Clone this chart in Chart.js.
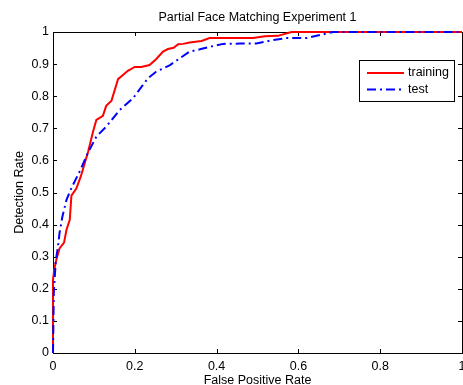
<!DOCTYPE html>
<html>
<head>
<meta charset="utf-8">
<script src="https://cdn.jsdelivr.net/npm/chart.js@4"></script>
<style>
  html, body { margin: 0; padding: 0; background: #fff; }
  #wrap { width: 463px; height: 385px; position: relative; }
</style>
</head>
<body>
<div id="wrap"><canvas id="roc-graph"></canvas></div>
<script>
const chartTitle = "Partial Face Matching Experiment 1";
const xLabel = "False Positive Rate";
const yLabel = "Detection Rate";
const seriesNames = ["training", "test"];

const trainFpr = [0, 0, 0.003, 0.008, 0.016, 0.027, 0.033, 0.041, 0.045, 0.057,
  0.068, 0.086, 0.098, 0.106, 0.122, 0.130, 0.143, 0.159, 0.171, 0.183,
  0.200, 0.216, 0.236, 0.252, 0.269, 0.281, 0.295, 0.306, 0.318, 0.334,
  0.363, 0.383, 0.408, 0.489, 0.518, 0.550, 0.583, 1];
const trainTpr = [0, 0.228, 0.26, 0.29, 0.326, 0.344, 0.384, 0.415, 0.49, 0.512,
  0.55, 0.628, 0.69, 0.726, 0.739, 0.77, 0.786, 0.853, 0.866, 0.879,
  0.891, 0.891, 0.897, 0.915, 0.939, 0.947, 0.951, 0.962, 0.963, 0.967,
  0.972, 0.981, 0.981, 0.981, 0.987, 0.988, 1, 1];

const testFpr = [0, 0.002, 0.007, 0.012, 0.016, 0.023, 0.033, 0.045, 0.065, 0.086,
  0.106, 0.130, 0.163, 0.196, 0.220, 0.232, 0.252, 0.285, 0.310, 0.334,
  0.359, 0.391, 0.416, 0.457, 0.497, 0.530, 0.570, 0.620, 0.685, 1];
const testTpr = [0, 0.19, 0.29, 0.33, 0.374, 0.425, 0.477, 0.514, 0.565, 0.625,
  0.674, 0.705, 0.757, 0.794, 0.835, 0.856, 0.876, 0.896, 0.918, 0.939,
  0.946, 0.956, 0.963, 0.964, 0.964, 0.973, 0.981, 0.981, 1, 1];

const xTicks = [0, 0.2, 0.4, 0.6, 0.8, 1];
const yTicks = [0, 0.1, 0.2, 0.3, 0.4, 0.5, 0.6, 0.7, 0.8, 0.9, 1];

const fontFamily = "'Liberation Sans', Arial, Helvetica, sans-serif";
const fontSize = 12.5;
const testDash = [9, 4, 2, 4];

function toPoints(xs, ys) {
  return xs.map((x, i) => ({ x: x, y: ys[i] }));
}

// Box, inward ticks, title and legend drawn the matlab way
const matlabAxes = {
  id: "matlabAxes",
  beforeDatasetsDraw(chart) {
    const { ctx, chartArea: a, scales } = chart;
    ctx.save();
    ctx.strokeStyle = "#000";
    ctx.lineWidth = 1;
    ctx.beginPath();
    xTicks.forEach((v) => {
      const px = Math.round(scales.x.getPixelForValue(v)) + 0.5;
      ctx.moveTo(px, a.bottom); ctx.lineTo(px, a.bottom - 4);
      ctx.moveTo(px, a.top); ctx.lineTo(px, a.top + 4);
    });
    yTicks.forEach((v) => {
      const py = Math.round(scales.y.getPixelForValue(v)) + 0.5;
      ctx.moveTo(a.left, py); ctx.lineTo(a.left + 4, py);
      ctx.moveTo(a.right, py); ctx.lineTo(a.right - 4, py);
    });
    ctx.stroke();
    ctx.strokeRect(Math.round(a.left) + 0.5, Math.round(a.top) + 0.5,
      Math.round(a.right - a.left), Math.round(a.bottom - a.top));
    ctx.restore();
  },
  afterDraw(chart) {
    const { ctx, chartArea: a } = chart;
    ctx.save();
    ctx.fillStyle = "#000";
    ctx.font = fontSize + "px " + fontFamily;
    ctx.textAlign = "center";
    ctx.textBaseline = "middle";
    ctx.fillText(chartTitle, (a.left + a.right) / 2, 18);

    // Legend box
    const bx = 359.5, by = 60.5, bw = 95, bh = 41;
    ctx.fillStyle = "#fff";
    ctx.fillRect(bx, by, bw, bh);
    ctx.strokeStyle = "#000";
    ctx.lineWidth = 1;
    ctx.strokeRect(bx, by, bw, bh);
    chart.data.datasets.forEach((ds, i) => {
      const ly = 73 + i * 16.5;
      ctx.strokeStyle = ds.borderColor;
      ctx.lineWidth = 2;
      ctx.setLineDash(ds.borderDash || []);
      ctx.beginPath();
      ctx.moveTo(367, ly);
      ctx.lineTo(404, ly);
      ctx.stroke();
      ctx.setLineDash([]);
      ctx.fillStyle = "#000";
      ctx.textAlign = "left";
      ctx.fillText(ds.label, 408, ly);
    });
    ctx.restore();
  },
};

const ctx = document.getElementById("roc-graph");
new Chart(ctx, {
  type: "line",
  data: {
    datasets: [
      {
        label: seriesNames[0],
        data: toPoints(trainFpr, trainTpr),
        borderColor: "#ff0000",
        borderWidth: 2,
        order: 1,
      },
      {
        label: seriesNames[1],
        data: toPoints(testFpr, testTpr),
        borderColor: "#0000ff",
        borderWidth: 2,
        borderDash: testDash,
        order: 0,
      },
    ],
  },
  options: {
    animation: false,
    responsive: true,
    maintainAspectRatio: false,
    devicePixelRatio: 1,
    radius: 0,
    tension: 0,
    clip: false,
    layout: { padding: { top: 32, right: 1, left: 0, bottom: 0 } },
    plugins: {
      legend: { display: false },
      tooltip: { enabled: false },
    },
    scales: {
      x: {
        type: "linear",
        min: 0,
        max: 1,
        afterFit(scale) {
          scale.height = 32;
          scale.paddingLeft = 0;
          scale.paddingRight = 0;
        },
        afterBuildTicks(scale) { scale.ticks = xTicks.map((v) => ({ value: v })); },
        grid: { display: false, drawTicks: false },
        border: { display: false },
        ticks: {
          color: "#000",
          padding: 6,
          maxRotation: 0,
          font: { family: fontFamily, size: fontSize },
          callback: (v) => String(v),
        },
        title: {
          display: true,
          text: xLabel,
          color: "#000",
          font: { family: fontFamily, size: fontSize },
          padding: { top: 0, bottom: -3.5 },
        },
      },
      y: {
        type: "linear",
        min: 0,
        max: 1,
        afterFit(scale) {
          scale.width = 53;
          scale.paddingTop = 0;
          scale.paddingBottom = 0;
        },
        afterBuildTicks(scale) { scale.ticks = yTicks.map((v) => ({ value: v })); },
        grid: { display: false, drawTicks: false },
        border: { display: false },
        ticks: {
          color: "#000",
          padding: 4,
          font: { family: fontFamily, size: fontSize },
          callback: (v) => String(Math.round(v * 10) / 10),
        },
        title: {
          display: true,
          text: yLabel,
          color: "#000",
          font: { family: fontFamily, size: fontSize },
          padding: { top: 12, bottom: 0 },
        },
      },
    },
  },
  plugins: [matlabAxes],
});
</script>
</body>
</html>
